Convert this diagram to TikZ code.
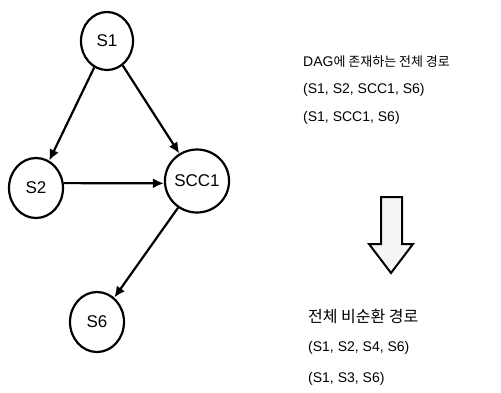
\documentclass[tikz,border=0pt]{standalone}
\usepackage{fontspec}
\setmainfont{Liberation Sans}
\newfontfamily\kr{Noto Sans CJK KR}
\usetikzlibrary{shapes.geometric,arrows.meta}
\begin{document}
\begin{tikzpicture}[x=1pt,y=-1pt,
  st/.style={ellipse,draw,line width=2.2pt,inner sep=0pt,font=\fontsize{17}{16}\selectfont},
  edge/.style={line width=2.2pt,-{Latex[length=11pt,width=10pt]}},
  txt/.style={anchor=west,inner sep=0pt,font=\fontsize{14}{14}\selectfont},
  krtxt/.style={anchor=west,inner sep=0pt,font=\kr\fontsize{16}{16}\selectfont}]
\useasboundingbox (0,0) rectangle (501,392);
\node[st,minimum width=52pt,minimum height=58pt] (s1) at (107,41) {S1};
\node[st,minimum width=54pt,minimum height=60pt] (s2) at (36,188) {S2};
\node[st,minimum width=56pt,minimum height=63pt] (scc1) at (197,181) {SCC1};
\node[st,minimum width=54pt,minimum height=60pt] (s6) at (97,322) {S6};
\draw[edge] (s1) -- (s2);
\draw[edge] (s1) -- (scc1);
\draw[edge] (s2.10) -- (scc1.184);
\draw[edge] (scc1) -- (s6);
\node[txt] (t1) at (303,62) {DAG{\kr\fontsize{13}{14}\selectfont 에 존재하는 전체 경로}};
\node[txt] (t2) at (303,90) {(S1, S2, SCC1, S6)};
\node[txt] (t3) at (303,118) {(S1, SCC1, S6)};
\draw[line width=2pt,fill=gray!8,line join=miter]
  (381,197) -- (402,197) -- (402,244) -- (413,244) -- (391,273) -- (369,244) -- (381,244) -- cycle;
\node[krtxt] (t4) at (308,316) {전체 비순환 경로};
\node[txt] (t5) at (308,348) {(S1, S2, S4, S6)};
\node[txt] (t6) at (308,379) {(S1, S3, S6)};
\end{tikzpicture}
\end{document}
